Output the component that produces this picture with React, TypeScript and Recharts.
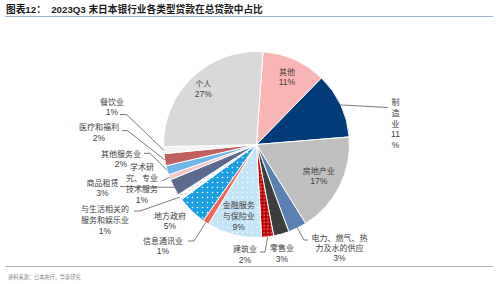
import React from 'react';
import { PieChart, Pie, Cell } from 'recharts';

// ---- data ----
const CATEGORIES = [
  '其他', '制造业', '房地产业', '电力、燃气、热力及水的供应', '零售业', '建筑业',
  '金融服务与保险业', '信息通讯业', '地方政府', '与生活相关的服务和娱乐业', '商品租赁',
  '学术研究、专业技术服务', '其他服务业', '医疗和福利', '餐饮业', '个人',
];
const SHARES = [11.2, 11.4, 17.45, 3.2, 2.7, 2.1, 9.49, 1.1, 5.2, 1.0, 2.9, 0.9, 1.6, 2.1, 1.2, 26.5];
const LABEL_LINES = [
  ['其他'], ['制', '造', '业'], ['房地产业'], ['电力、燃气、热', '力及水的供应'], ['零售业'], ['建筑业'],
  ['金融服务', '与保险业'], ['信息通讯业'], ['地方政府'], ['与生活相关的', '服务和娱乐业'], ['商品租赁'],
  ['学术研', '究、专业', '技术服务'], ['其他服务业'], ['医疗和福利'], ['餐饮业'], ['个人'],
];

// ---- styles ----
const FILLS = [
  '#F9B5B3', '#023B7A', '#BFBFBF', '#5A80B4', '#3D3D3D', 'url(#dotsRed)',
  'url(#dotsLight)', '#F0675C', 'url(#dotsBlue)', 'url(#hatchWhite)', '#5B6A8E',
  '#F2C4C4', '#6DB6EA', '#C1605F', '#F4F4F4', '#D9D9D9',
];

type Layout = {
  mode: 'radial' | 'fixed';
  f?: number;
  dx?: number;
  dy?: number;
  gap: number;
  leader?: number[][];
  vertical?: boolean;
};

// label placement relative to pie centre
const LABEL_LAYOUT: Layout[] = [
  { mode: 'radial', f: 0.8, gap: 11 },
  { mode: 'fixed', dx: 139, dy: -43.5, gap: 11, leader: [[131.5, -37]], vertical: true },
  { mode: 'radial', f: 0.75, gap: 11 },
  { mode: 'fixed', dx: 83, dy: 92.5, gap: 10.5, leader: [[47.5, 95.5], [51.5, 95.5]] },
  { mode: 'fixed', dx: 25.5, dy: 103, gap: 11 },
  { mode: 'fixed', dx: -11.5, dy: 104, gap: 11.5, leader: [[8.5, 107.5], [3.5, 107.5]] },
  { mode: 'radial', f: 0.79, gap: 11 },
  { mode: 'fixed', dx: -93.5, dy: 95.5, gap: 10.5, leader: [[-62.5, 96.5], [-68.5, 96.5]] },
  { mode: 'fixed', dx: -86.5, dy: 70.5, gap: 10.5 },
  { mode: 'fixed', dx: -151.5, dy: 63.8, gap: 11.3, leader: [[-116.5, 66.5], [-122.5, 66.5]] },
  { mode: 'fixed', dx: -154, dy: 37.5, gap: 11, leader: [[-136.5, 42]] },
  { mode: 'fixed', dx: -114.5, dy: 22, gap: 11, leader: [[-94.5, 36.5]] },
  { mode: 'fixed', dx: -135.5, dy: 8.8, gap: 10.5, leader: [[-106.5, 8.8], [-112.5, 8.8]] },
  { mode: 'fixed', dx: -157.5, dy: -17.8, gap: 10.8, leader: [[-129, -13.8], [-134.5, -13.8]] },
  { mode: 'fixed', dx: -144.5, dy: -43.5, gap: 10.8, leader: [[-129.8, -30], [-136.5, -30]] },
  { mode: 'radial', f: 0.83, gap: 11 },
];

const CJK = '"Noto Sans CJK SC", sans-serif';
const LATIN = '"Liberation Sans", Arial, sans-serif';

const data = CATEGORIES.map((name, i) => ({ name, value: SHARES[i] }));

const renderLabel = (props: any) => {
  const { cx, cy, midAngle, outerRadius, index } = props;
  const L = LABEL_LAYOUT[index];
  const pct = `${Math.round(SHARES[index])}%`;
  const lines: { t: string; latin: boolean }[] = LABEL_LINES[index].map((t) => ({ t, latin: false }));
  if (L.vertical) {
    lines.push({ t: pct.replace('%', ''), latin: true }, { t: '%', latin: true });
  } else {
    lines.push({ t: pct, latin: true });
  }
  const rad = (-midAngle * Math.PI) / 180;
  let tx: number;
  let ty0: number;
  if (L.mode === 'radial') {
    const r = outerRadius * (L.f as number);
    tx = cx + r * Math.cos(rad);
    ty0 = cy + r * Math.sin(rad) - ((lines.length - 1) * L.gap) / 2;
  } else {
    tx = cx + (L.dx as number);
    ty0 = cy + (L.dy as number);
  }
  let leader: string | null = null;
  if (L.leader) {
    const pts = [[cx + outerRadius * Math.cos(rad), cy + outerRadius * Math.sin(rad)]].concat(
      L.leader.map(([a, b]) => [cx + a, cy + b])
    );
    leader = pts.map((p) => `${p[0]},${p[1]}`).join(' ');
  }
  return (
    <g key={`lbl-${index}`}>
      {leader && <polyline points={leader} fill="none" stroke="#5a5a5a" strokeWidth={0.8} />}
      {lines.map((ln, i) => (
        <text
          key={i}
          x={tx}
          y={ty0 + i * L.gap}
          textAnchor="middle"
          dominantBaseline="central"
          fontFamily={ln.latin ? LATIN : CJK}
          fontSize={ln.latin ? 8.5 : 8}
          fill="#404040"
        >
          {ln.t}
        </text>
      ))}
    </g>
  );
};

export default function App() {
  return (
    <div
      style={{
        position: 'absolute',
        left: 0,
        top: 0,
        width: 500,
        height: 284,
        background: '#fff',
        overflow: 'hidden',
      }}
    >
      <svg width={0} height={0} style={{ position: 'absolute' }}>
        <defs>
          <pattern id="dotsRed" width={3.5} height={3.5} patternUnits="userSpaceOnUse">
            <rect width={3.5} height={3.5} fill="#C00000" />
            <circle cx={1.75} cy={1.75} r={0.6} fill="#ffffff" />
          </pattern>
          <pattern id="dotsLight" width={5} height={5} patternUnits="userSpaceOnUse">
            <rect width={5} height={5} fill="#C4E4F7" />
            <circle cx={2.5} cy={2.5} r={0.7} fill="#ffffff" />
          </pattern>
          <pattern id="dotsBlue" width={5} height={5} patternUnits="userSpaceOnUse">
            <rect width={5} height={5} fill="#1A9FE2" />
            <circle cx={2.5} cy={2.5} r={0.8} fill="#ffffff" />
          </pattern>
          <pattern id="hatchWhite" width={4} height={4} patternUnits="userSpaceOnUse">
            <rect width={4} height={4} fill="#ffffff" />
            <line x1={0.5} y1={3} x2={2} y2={1.5} stroke="#8a8a8a" strokeWidth={0.6} />
          </pattern>
        </defs>
      </svg>

      <div
        style={{
          position: 'absolute',
          left: 6,
          top: 3,
          fontFamily: `${LATIN.split(',')[0]}, "Noto Sans CJK SC", sans-serif`,
          fontWeight: 700,
          fontSize: 9.7,
          color: '#1a1a1a',
          whiteSpace: 'pre',
          lineHeight: '14px',
        }}
      >
        {'图表12：  2023Q3 末日本银行业各类型贷款在总贷款中占比'}
      </div>
      <div style={{ position: 'absolute', left: 5, top: 16, width: 488, height: 1, background: '#9DB0CB' }} />

      <div style={{ position: 'absolute', left: 0, top: 0 }}>
        <PieChart width={500} height={284}>
          <Pie
            data={data}
            dataKey="value"
            nameKey="name"
            cx={251.5}
            cy={139.5}
            outerRadius={93}
            startAngle={86}
            endAngle={-274}
            stroke="#ffffff"
            strokeWidth={1}
            label={renderLabel}
            labelLine={false}
            isAnimationActive={false}
          >
            {data.map((d, i) => (
              <Cell key={d.name} fill={FILLS[i]} />
            ))}
          </Pie>
        </PieChart>
      </div>

      <div style={{ position: 'absolute', left: 5, top: 266, width: 488, height: 1, background: '#B0B0B0' }} />
      <div
        style={{
          position: 'absolute',
          left: 8,
          top: 273,
          fontFamily: CJK,
          fontSize: 5.2,
          color: '#7f7f7f',
          whiteSpace: 'pre',
          lineHeight: '8px',
        }}
      >
        资料来源：日本央行，华泰研究
      </div>
    </div>
  );
}
